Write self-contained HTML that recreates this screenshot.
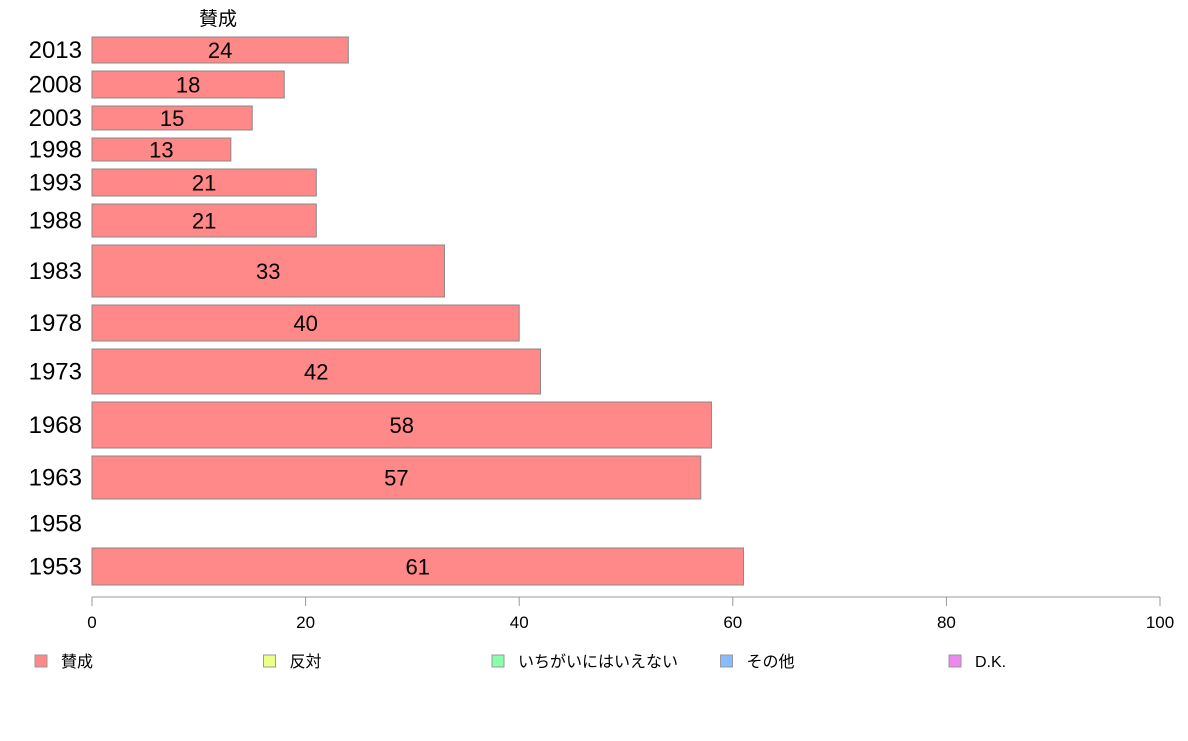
<!DOCTYPE html>
<html><head><meta charset="utf-8"><style>
body{margin:0;background:#fff;font-family:"Liberation Sans","Noto Sans CJK JP",sans-serif}
svg text{font-family:"Liberation Sans","Noto Sans CJK JP",sans-serif}
</style></head><body>
<svg id="c" width="1188" height="736" xmlns="http://www.w3.org/2000/svg">
<text x="218" y="25" font-size="19" text-anchor="middle">賛成</text>
<g id="bars"></g>
<g id="axis"></g>
<g id="legend"></g>
</svg>
<script>
const years=["2013","2008","2003","1998","1993","1988","1983","1978","1973","1968","1963","1958","1953"];
const values=[24,18,15,13,21,21,33,40,42,58,57,null,61];
const weights=[26,27,24,23,27,33,52,36,45,46,43,33,37];
const ticks=[0,20,40,60,80,100];
const legendLabels=["賛成","反対","いちがいにはいえない","その他","D.K."];
const legendColors=["#ff8888","#eeff88","#88ffaa","#88bbff","#ee88ee"];
const NS="http://www.w3.org/2000/svg";
const x0=92,x1=1160,top0=37,gap=8;
const xs=v=>x0+(x1-x0)*v/100;
function mk(t,a,p){const e=document.createElementNS(NS,t);for(const k in a)e.setAttribute(k,a[k]);p.appendChild(e);return e;}
const bars=document.getElementById('bars');
let y=top0;
years.forEach((yr,i)=>{
  const h=weights[i];
  const lab=mk('text',{x:82,y:y+h/2+8,'font-size':24,'text-anchor':'end'},bars);
  lab.textContent=yr;
  
  
  if(values[i]!=null){
    const r=mk('rect',{x:x0,y:y,width:xs(values[i])-x0,height:h,fill:'#ff8888',stroke:'#888','stroke-width':1},bars);
    
    
    const t=mk('text',{x:(x0+xs(values[i]))/2,y:y+h/2+8,'font-size':22,'text-anchor':'middle'},bars);
    t.textContent=values[i];
    
    
  }
  y+=h+gap;
});
const ax=document.getElementById('axis');
const al=mk('line',{x1:x0,x2:x1,y1:597,y2:597,stroke:'#999'},ax);


ticks.forEach(t=>{
  const l=mk('line',{x1:xs(t),x2:xs(t),y1:597,y2:606,stroke:'#999'},ax);
  
  
  const tx=mk('text',{x:xs(t),y:628,'font-size':17,'text-anchor':'middle'},ax);
  tx.textContent=t;
  
  
});
const lg=document.getElementById('legend');
legendLabels.forEach((n,i)=>{
  const lx=35+i*228.5;
  const r=mk('rect',{x:lx,y:655,width:12,height:12,fill:legendColors[i],stroke:'#999'},lg);
  
  
  const t=mk('text',{x:lx+26,y:667,'font-size':16},lg);
  t.textContent=n;
  
  
});
</script>
</body></html>
